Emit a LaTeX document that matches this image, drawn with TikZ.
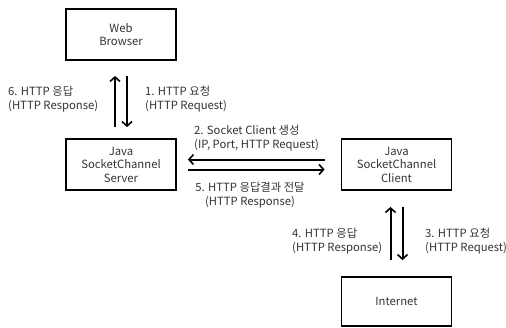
\documentclass[tikz,border=0pt]{standalone}
\usepackage{fontspec}
\setmainfont{Noto Sans CJK KR}
\usetikzlibrary{arrows.meta}
\tikzset{
  box/.style={draw,line width=1.8pt,minimum width=110pt,text=black!80,align=center,inner sep=0pt,font=\fontsize{11.3}{13.5}\selectfont},
  flow/.style={line width=2pt,-{Straight Barb[length=4.5pt,width=10pt,line width=1.6pt]}},
  lbl/.style={inner sep=0pt,text=black!80,font=\fontsize{11.3}{13.5}\selectfont}
}
\begin{document}
\begin{tikzpicture}[x=1pt,y=-1pt]
\useasboundingbox (0,0) rectangle (506,327);

\node[box,minimum height=51pt] (browser) at (121,34.5) {Web\\Browser};
\node[box,minimum height=51pt] (server) at (121,164.5) {Java\\SocketChannel\\Server};
\node[box,minimum height=51pt] (client) at (396.5,164.5) {Java\\SocketChannel\\Client};
\node[box,minimum height=49pt] (internet) at (396.5,301.5) {Internet};

% browser <-> server
\draw[flow,shorten <=11pt,shorten >=15pt] ([xshift=-6pt]server.north) -- ([xshift=-6pt]browser.south);
\draw[flow,shorten <=15pt,shorten >=11pt] ([xshift=6pt]browser.south) -- ([xshift=6pt]server.north);
\node[lbl,anchor=west,align=left] (l6) at (8,99) {6. HTTP 응답\\(HTTP Response)};
\node[lbl,anchor=west,align=left] (l1) at (145,99) {1. HTTP 요청\\(HTTP Request)};

% server <-> client
\draw[flow,shorten <=11pt,shorten >=16pt] ([yshift=-5pt]server.east) -- ([yshift=-5pt]client.west);
\draw[flow,shorten <=16pt,shorten >=11pt] ([yshift=5pt]client.west) -- ([yshift=5pt]server.east);
\node[lbl,anchor=west,align=left] (l2) at (194,138) {2. Socket Client 생성\\(IP, Port, HTTP Request)};
\node[lbl,align=center] (l5) at (250,195) {5. HTTP 응답결과 전달\\(HTTP Response)};

% client <-> internet
\draw[flow,shorten <=16pt,shorten >=16pt] ([xshift=-6pt]internet.north) -- ([xshift=-6pt]client.south);
\draw[flow,shorten <=16pt,shorten >=16pt] ([xshift=6pt]client.south) -- ([xshift=6pt]internet.north);
\node[lbl,anchor=west,align=left] (l4) at (292,241) {4. HTTP 응답\\(HTTP Response)};
\node[lbl,anchor=west,align=left] (l3) at (425,241) {3. HTTP 요청\\(HTTP Request)};
\end{tikzpicture}
\end{document}
